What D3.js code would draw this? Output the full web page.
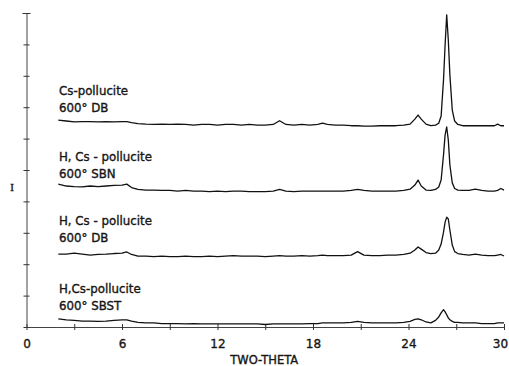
<!DOCTYPE html>
<html>
<head>
<meta charset="utf-8">
<script src="https://cdn.jsdelivr.net/npm/d3@7"></script>
<style>
body { margin: 0; background: #fff; }
text { font-family: "DejaVu Sans", sans-serif; fill: #151515; stroke: #151515; stroke-width: 0.35px; }
</style>
</head>
<body>
<svg id="chart" width="509" height="366"></svg>
<script>
// 2-theta positions shared by all four scans
const twoTheta = [2.0, 2.5, 3.0, 3.5, 4.0, 4.5, 5.0, 5.5, 6.0, 6.3, 6.6, 7.0, 7.5, 8.0, 8.5, 9.0, 9.5,
    10.0, 10.5, 11.0, 11.5, 12.0, 12.5, 13.0, 13.5, 14.0, 14.5, 15.0, 15.5, 15.9, 16.3, 16.8, 17.3, 17.8,
    18.3, 18.6, 18.9, 19.4, 19.9, 20.4, 20.8, 21.2, 21.7, 22.2, 22.7, 23.2, 23.7, 24.1, 24.4, 24.6, 24.8,
    25.1, 25.4, 25.7, 25.9, 26.05, 26.2, 26.3, 26.4, 26.5, 26.6, 26.75, 26.9, 27.1, 27.4, 27.8, 28.2,
    28.6, 29.0, 29.4, 29.6, 29.8, 30.0];

// intensities above each scan's own baseline
const csDb = [1.6, 1.3, 1.0, 1.1, 1.1, 1.0, 1.1, 1.0, 1.1, 1.1, 0.8, 0.5, 0.3, 0.2, 0.3, 0.2, 0.3,
    0.2, 0, 0.2, 0.2, 0, 0.2, 0.2, 0, 0.2, 0, 0, 0.2, 1.4, 0.2, 0, 0.2, 0,
    0.2, 0.6, 0.2, 0, 0, -0.2, -0.2, -0.3, -0.3, -0.2, -0.2, -0.2, 0, 0.3, 1.9, 3.2, 1.9,
    0.3, -0.2, 0, 0.6, 2.9, 14.4, 25.6, 35.1, 27.2, 16.0, 4.8, 1.3, 0.2, -0.2, -0.2, -0.2,
    -0.2, -0.2, -0.2, 0.3, -0.2, -0.2];

const hcsSbn = [2.2, 1.6, 1.4, 1.3, 1.6, 1.4, 1.6, 1.8, 1.9, 2.2, 1.1, 0.5, 0.3, 0.3, 0.2, 0.2, 0,
    0.2, 0, 0, -0.2, 0, -0.2, 0, 0, -0.2, -0.2, -0.2, 0, 0.5, 0, -0.2, 0, 0,
    0, 0, 0, 0, 0, 0.2, 0.5, 0.2, 0, 0, 0, 0, 0.2, 0.6, 1.9, 3.5, 1.6,
    0.3, 0.2, 0.5, 1.3, 3.5, 11.5, 17.9, 20.4, 16.3, 8.3, 2.6, 0.8, 0.3, 0.2, 0.2, 0.6,
    0.2, 0, 0, 0.2, 0.8, 0.3];

const hcsDb = [0.3, 0.3, 0.6, 0.3, 0, 0.2, 0.3, 0.5, 0.6, 1.0, 0.2, -0.3, -0.3, -0.5, -0.3, -0.5, -0.5,
    -0.3, -0.5, -0.5, -0.3, -0.5, -0.3, -0.2, -0.3, -0.3, -0.3, -0.5, -0.3, -0.2, -0.3, -0.3, -0.2, -0.3,
    -0.2, 0, -0.2, -0.2, -0.2, 0, 1.1, 0, -0.2, -0.2, 0, 0, 0.2, 0.6, 1.6, 2.6, 1.9,
    0.8, 0.5, 0.6, 1.6, 3.5, 7.3, 10.5, 12.1, 11.5, 8.0, 3.2, 1.1, 0.5, 0.2, 0, 0.3,
    0, -0.2, -0.2, 0, 0.2, -0.3];

const hcsSbst = [1.3, 1.0, 0.8, 0.6, 0.6, 0.5, 0.6, 0.8, 1.0, 1.0, 0.6, 0.2, 0, 0, -0.2, -0.2, -0.2,
    -0.3, -0.2, -0.3, -0.3, -0.3, -0.3, -0.3, -0.3, -0.3, -0.3, -0.5, -0.3, -0.3, -0.3, -0.3, -0.3, -0.2,
    -0.2, 0, 0, 0, 0, 0.2, 0.5, 0.2, 0, 0, 0, 0, 0.2, 0.5, 1.1, 1.3, 1.0,
    0.3, 0, 0.8, 1.9, 3.2, 4.2, 3.5, 2.6, 1.6, 1.0, 0.5, 0.2, 0.2, 0, 0, 0,
    -0.2, -0.2, -0.2, 0, 0, 0];

const scans = [csDb, hcsSbn, hcsDb, hcsSbst];
const baselines = [64.3, 43.3, 22.9, 1.3];
const labelTop = ["Cs-pollucite", "H, Cs - pollucite", "H, Cs - pollucite", "H,Cs-pollucite"];
const labelBottom = ["600° DB", "600° SBN", "600° DB", "600° SBST"];

const xTicks = [0, 3, 6, 9, 12, 15, 18, 21, 24, 27, 30];
const yTicks = [0, 10, 20, 30, 40, 50, 60, 70, 80, 90, 100];

const svg = d3.select('#chart');
const x = d3.scaleLinear().domain([0, 30]).range([26.5, 504]);
const y = d3.scaleLinear().domain([0, 100]).range([327, 13]);

// x axis, ticks crossing the line
const xAxis = svg.append('g')
    .attr('transform', `translate(0,${y(0)})`)
    .call(d3.axisBottom(x).tickValues(xTicks).tickSizeInner(3).tickSizeOuter(0).tickPadding(9)
        .tickFormat(d => d % 6 === 0 ? d : ''));
xAxis.selectAll('.tick line').attr('y1', -3).attr('stroke', '#333');
xAxis.select('.domain').attr('stroke', '#444');
xAxis.selectAll('text')
    .attr('font-size', 12)
    .attr('font-family', '"DejaVu Sans", sans-serif')
    .attr('fill', '#151515')
    .attr('dx', d => d === 30 ? -4 : 0);

// intensity axis, no numbers
const yAxis = svg.append('g')
    .attr('transform', `translate(${x(0)},0)`)
    .call(d3.axisLeft(y).tickValues(yTicks).tickSize(3).tickSizeOuter(0).tickFormat(''));
yAxis.selectAll('.tick line').attr('x1', 3).attr('stroke', '#333');
yAxis.selectAll('.tick line').filter(d => d === 100).attr('x1', 4).attr('x2', -4);
yAxis.select('.domain').attr('stroke', '#444');

svg.append('text')
    .attr('x', 12).attr('y', 191)
    .attr('text-anchor', 'middle')
    .style('font-family', '"Liberation Serif", serif')
    .attr('font-size', 11)
    .text('I');

svg.append('text')
    .attr('x', (x(0) + x(30)) / 2 - 1).attr('y', 364)
    .attr('text-anchor', 'middle')
    .attr('font-size', 11.5)
    .text('TWO-THETA');

const line = d3.line()
    .x((d, i) => x(twoTheta[i]));

scans.forEach((scan, k) => {
    svg.append('path')
        .datum(scan)
        .attr('fill', 'none')
        .attr('stroke', '#111')
        .attr('stroke-width', 1.3)
        .attr('stroke-linejoin', 'round')
        .attr('d', line.y(d => y(baselines[k] + d)));

    const by = y(baselines[k]);
    svg.append('text')
        .attr('x', 59).attr('y', by - 30)
        .attr('font-size', 11.8)
        .text(labelTop[k]);
    svg.append('text')
        .attr('x', 59).attr('y', by - 13)
        .attr('font-size', 11.8)
        .text(labelBottom[k]);
});
</script>
</body>
</html>
